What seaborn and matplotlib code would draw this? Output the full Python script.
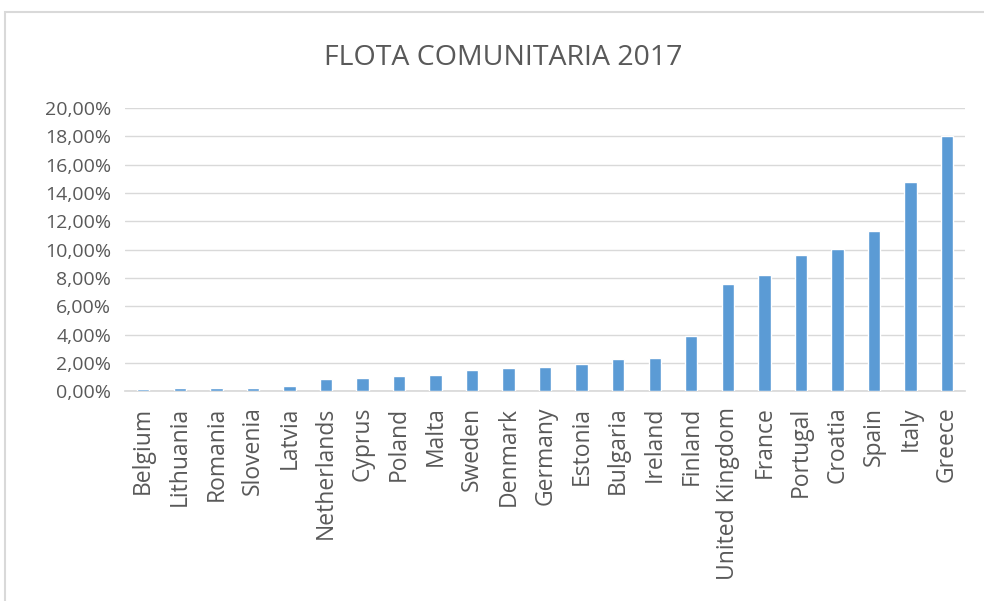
import numpy as np
import pandas as pd
import matplotlib
matplotlib.use("Agg")
import matplotlib.pyplot as plt
import seaborn as sns
from matplotlib.patches import Rectangle
from matplotlib.ticker import FuncFormatter

countries = ["Belgium", "Lithuania", "Romania", "Slovenia", "Latvia", "Netherlands",
             "Cyprus", "Poland", "Malta", "Sweden", "Denmark", "Germany", "Estonia",
             "Bulgaria", "Ireland", "Finland", "United Kingdom", "France", "Portugal",
             "Croatia", "Spain", "Italy", "Greece"]
share = [0.13, 0.21, 0.21, 0.21, 0.40, 0.87, 0.96, 1.05, 1.14, 1.52, 1.62, 1.72, 1.93,
         2.28, 2.37, 3.87, 7.58, 8.24, 9.63, 10.07, 11.30, 14.77, 18.02]

df = pd.DataFrame({"country": countries, "share": share})

sns.set_theme(style="white")
plt.rcParams['font.family'] = ['Open Sans', 'DejaVu Sans']
TXT = "#595959"

fig = plt.figure(figsize=(9.84, 6.01), dpi=100)
ax = fig.add_axes([0.127, 0.349, 0.854, 0.471])

sns.barplot(data=df, x="country", y="share", color="#5B9BD5", width=0.34,
            saturation=1, ax=ax, zorder=3)

ax.set_ylim(0, 20)
ax.set_yticks(np.arange(0, 21, 2))
ax.yaxis.set_major_formatter(FuncFormatter(lambda v, p: f"{v:.2f}%".replace(".", ",")))
ax.grid(True, axis="y", color="#D9D9D9", linewidth=1, zorder=0)
ax.set_xlim(-0.5, len(countries) - 0.5)

for s in ["top", "right", "left"]:
    ax.spines[s].set_visible(False)
ax.spines["bottom"].set_color("#D9D9D9")
ax.spines["bottom"].set_zorder(1)
ax.tick_params(axis="both", length=0, colors=TXT)
ax.tick_params(axis="x", pad=11, labelsize=16.5)
ax.tick_params(axis="y", pad=10, labelsize=14)
plt.setp(ax.get_xticklabels(), rotation=90)
ax.set_xlabel("")
ax.set_ylabel("")

fig.text(0.511, 0.903, "FLOTA COMUNITARIA 2017", ha="center", va="center",
         fontsize=20.5, color=TXT)

fig.add_artist(Rectangle((0.005, -0.01), 1.0, 0.99, transform=fig.transFigure,
                         fill=False, edgecolor="#D9D9D9", linewidth=1.5))

fig.savefig("out.png", dpi=100)
